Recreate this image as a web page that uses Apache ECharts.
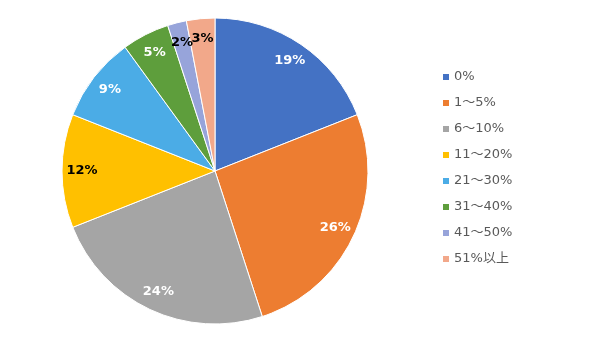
<!DOCTYPE html>
<html>
<head>
<meta charset="utf-8">
<script src="https://cdn.jsdelivr.net/npm/echarts@6/dist/echarts.min.js"></script>
<style>
  html, body { margin: 0; padding: 0; background: #fff; }
  #main { width: 600px; height: 354px; }
</style>
</head>
<body>
<div id="main"></div>
<script>
// 区分と割合
const categories = ['0%', '1～5%', '6～10%', '11～20%', '21～30%', '31～40%', '41～50%', '51%以上']
const values = [19, 26, 24, 12, 9, 5, 2, 3]
const colors = ['#4472C4', '#ED7D31', '#A5A5A5', '#FFC000', '#4BACE6', '#5E9E3C', '#97A4DA', '#F2A88A']
const labelColors = ['#fff', '#fff', '#fff', '#000', '#fff', '#fff', '#000', '#000']

var myChart = echarts.init(document.getElementById('main'))

const pieData = categories.map((name, i) => ({
  name: name,
  value: values[i],
  itemStyle: { color: colors[i] }
}))

// ラベル用の透明なリング（ラベルを外寄りに置くため）
const labelData = categories.map((name, i) => ({
  name: name,
  value: values[i],
  itemStyle: { color: 'rgba(0,0,0,0)' },
  label: { color: labelColors[i] }
}))

var option = {
  animation: false,
  legend: {
    orient: 'vertical',
    left: 441,
    top: 70,
    padding: 0,
    itemWidth: 8,
    itemHeight: 8,
    itemGap: 12,
    icon: 'rect',
    data: categories,
    textStyle: {
      fontFamily: 'DejaVu Sans, Noto Sans CJK JP',
      fontSize: 13,
      lineHeight: 14,
      color: '#595959',
      padding: [0, 0, 0, -1]
    }
  },
  series: [
    {
      type: 'pie',
      center: [215, 171],
      radius: [0, 153],
      startAngle: 90,
      clockwise: true,
      data: pieData,
      label: { show: false },
      labelLine: { show: false },
      itemStyle: { borderColor: '#fff', borderWidth: 1 },
      emphasis: { disabled: true }
    },
    {
      type: 'pie',
      center: [215, 171],
      radius: [107, 153],
      startAngle: 90,
      clockwise: true,
      data: labelData,
      silent: true,
      legendHoverLink: false,
      avoidLabelOverlap: false,
      labelLayout: { hideOverlap: false },
      label: {
        show: true,
        position: 'inside',
        formatter: '{c}%',
        fontFamily: 'DejaVu Sans',
        fontWeight: 'bold',
        fontSize: 13
      },
      labelLine: { show: false },
      emphasis: { disabled: true }
    }
  ]
}

myChart.setOption(option)
</script>
</body>
</html>
